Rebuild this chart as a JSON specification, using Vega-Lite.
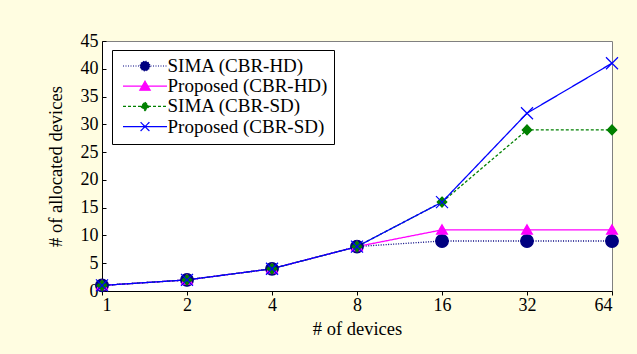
{
  "$schema": "https://vega.github.io/schema/vega-lite/v6.json",
  "autosize": "none",
  "width": 510,
  "height": 250,
  "padding": {"left": 102, "top": 41, "right": 25, "bottom": 63},
  "background": "#fffde1",
  "config": {
    "font": "Liberation Serif",
    "view": {"fill": "white", "stroke": "#808080", "strokeWidth": 1},
    "axis": {
      "labelFont": "Liberation Serif", "labelFontSize": 18, "labelColor": "black",
      "titleFont": "Liberation Serif", "titleFontSize": 18.5, "titleFontWeight": "normal", "titleColor": "black",
      "domainColor": "black", "tickColor": "black", "grid": false
    },
    "legend": {
      "labelFont": "Liberation Serif", "labelFontSize": 19, "labelColor": "black", "labelLimit": 400
    }
  },
  "data": {"values": [
    {"series": "SIMA (CBR-HD)", "devices": 1, "allocated": 1},
    {"series": "SIMA (CBR-HD)", "devices": 2, "allocated": 2},
    {"series": "SIMA (CBR-HD)", "devices": 4, "allocated": 4},
    {"series": "SIMA (CBR-HD)", "devices": 8, "allocated": 8},
    {"series": "SIMA (CBR-HD)", "devices": 16, "allocated": 9},
    {"series": "SIMA (CBR-HD)", "devices": 32, "allocated": 9},
    {"series": "SIMA (CBR-HD)", "devices": 64, "allocated": 9},
    {"series": "Proposed (CBR-HD)", "devices": 1, "allocated": 1},
    {"series": "Proposed (CBR-HD)", "devices": 2, "allocated": 2},
    {"series": "Proposed (CBR-HD)", "devices": 4, "allocated": 4},
    {"series": "Proposed (CBR-HD)", "devices": 8, "allocated": 8},
    {"series": "Proposed (CBR-HD)", "devices": 16, "allocated": 11},
    {"series": "Proposed (CBR-HD)", "devices": 32, "allocated": 11},
    {"series": "Proposed (CBR-HD)", "devices": 64, "allocated": 11},
    {"series": "SIMA (CBR-SD)", "devices": 1, "allocated": 1},
    {"series": "SIMA (CBR-SD)", "devices": 2, "allocated": 2},
    {"series": "SIMA (CBR-SD)", "devices": 4, "allocated": 4},
    {"series": "SIMA (CBR-SD)", "devices": 8, "allocated": 8},
    {"series": "SIMA (CBR-SD)", "devices": 16, "allocated": 16},
    {"series": "SIMA (CBR-SD)", "devices": 32, "allocated": 29},
    {"series": "SIMA (CBR-SD)", "devices": 64, "allocated": 29},
    {"series": "Proposed (CBR-SD)", "devices": 1, "allocated": 1},
    {"series": "Proposed (CBR-SD)", "devices": 2, "allocated": 2},
    {"series": "Proposed (CBR-SD)", "devices": 4, "allocated": 4},
    {"series": "Proposed (CBR-SD)", "devices": 8, "allocated": 8},
    {"series": "Proposed (CBR-SD)", "devices": 16, "allocated": 16},
    {"series": "Proposed (CBR-SD)", "devices": 32, "allocated": 32},
    {"series": "Proposed (CBR-SD)", "devices": 64, "allocated": 41}
  ]},
  "encoding": {
    "x": {
      "field": "devices", "type": "quantitative",
      "scale": {"type": "log", "base": 2, "domain": [1, 64], "nice": false},
      "axis": {"title": "# of devices", "values": [1, 2, 4, 8, 16, 32, 64], "format": "d",
               "tickSize": 4, "labelPadding": 1, "titleY": 43, "titleBaseline": "alphabetic"}
    },
    "y": {
      "field": "allocated", "type": "quantitative",
      "scale": {"domain": [0, 45], "nice": false},
      "axis": {"title": "# of allocated devices", "values": [0, 5, 10, 15, 20, 25, 30, 35, 40, 45],
               "tickSize": -4, "labelPadding": 8, "titleX": -47, "titleY": 125, "titleBaseline": "middle", "titleAngle": 270}
    }
  },
  "layer": [
    {
      "mark": {"type": "line", "strokeWidth": 1.3},
      "encoding": {
        "color": {"field": "series", "type": "nominal", "legend": null,
          "scale": {"domain": ["SIMA (CBR-HD)", "Proposed (CBR-HD)", "SIMA (CBR-SD)", "Proposed (CBR-SD)"],
                    "range": ["#000080", "#ff00ff", "#008000", "#0000ff"]}},
        "strokeDash": {"field": "series", "type": "nominal", "legend": null,
          "scale": {"domain": ["SIMA (CBR-HD)", "Proposed (CBR-HD)", "SIMA (CBR-SD)", "Proposed (CBR-SD)"],
                    "range": [[1, 1.5], [1, 0], [3, 2], [1, 0]]}}
      }
    },
    {
      "mark": {"type": "point", "filled": true, "opacity": 1, "size": 144, "strokeWidth": 1.2},
      "encoding": {
        "fill": {"field": "series", "type": "nominal", "legend": null,
          "scale": {"domain": ["SIMA (CBR-HD)", "Proposed (CBR-HD)", "SIMA (CBR-SD)", "Proposed (CBR-SD)"],
                    "range": ["#000080", "#ff00ff", "#008000", "#0000ff"]}},
        "stroke": {"field": "series", "type": "nominal", "legend": null,
          "scale": {"domain": ["SIMA (CBR-HD)", "Proposed (CBR-HD)", "SIMA (CBR-SD)", "Proposed (CBR-SD)"],
                    "range": ["#000080", "#ff00ff", "#008000", "#0000ff"]}},
        "shape": {"field": "series", "type": "nominal", "legend": null,
          "scale": {"domain": ["SIMA (CBR-HD)", "Proposed (CBR-HD)", "SIMA (CBR-SD)", "Proposed (CBR-SD)"],
                    "range": ["M1.05,0A1.05,1.05 0 1 1 -1.05,0A1.05,1.05 0 1 1 1.05,0Z",
                              "M0,-0.85L0.9,0.7L-0.9,0.7Z",
                              "M0,-0.85L0.8,0L0,0.85L-0.8,0Z",
                              "M-1,-1L1,1M-1,1L1,-1"]}}
      }
    },
    {
      "transform": [{"filter": "false"}],
      "mark": {"type": "point", "filled": true, "opacity": 1, "strokeWidth": 1.2},
      "encoding": {
        "fill": {"field": "series", "type": "nominal",
          "scale": {"domain": ["SIMA (CBR-HD)", "Proposed (CBR-HD)", "SIMA (CBR-SD)", "Proposed (CBR-SD)"],
                    "range": ["#000080", "#ff00ff", "#008000", "#0000ff"]},
          "legend": {"title": null, "orient": "none", "legendX": 10, "legendY": 9, "padding": 6.5,
                     "strokeColor": "black", "fillColor": "white", "cornerRadius": 0,
                     "symbolSize": 64, "symbolOffset": 17, "labelOffset": 13, "rowPadding": 0.2,
                     "symbolStrokeWidth": 1.2}},
        "stroke": {"field": "series", "type": "nominal",
          "scale": {"domain": ["SIMA (CBR-HD)", "Proposed (CBR-HD)", "SIMA (CBR-SD)", "Proposed (CBR-SD)"],
                    "range": ["#000080", "#ff00ff", "#008000", "#0000ff"]}},
        "strokeDash": {"field": "series", "type": "nominal",
          "scale": {"domain": ["SIMA (CBR-HD)", "Proposed (CBR-HD)", "SIMA (CBR-SD)", "Proposed (CBR-SD)"],
                    "range": [[1, 1.5], [1, 0], [3, 2], [1, 0]]}},
        "shape": {"field": "series", "type": "nominal",
          "scale": {"domain": ["SIMA (CBR-HD)", "Proposed (CBR-HD)", "SIMA (CBR-SD)", "Proposed (CBR-SD)"],
                    "range": ["M-5.5,0L5.5,0M1.2,0A1.2,1.2 0 1 1 -1.2,0A1.2,1.2 0 1 1 1.2,0Z",
                              "M-5.5,0L5.5,0M0,-1.25L1.3,1L-1.3,1Z",
                              "M-5.5,0L5.5,0M0,-1.05L1.05,0L0,1.05L-1.05,0Z",
                              "M-5.5,0L5.5,0M-1.1,-1.1L1.1,1.1M-1.1,1.1L1.1,-1.1"]}}
      }
    }
  ],
  "resolve": {"scale": {"color": "independent", "fill": "independent", "stroke": "independent", "strokeDash": "independent", "shape": "independent"}}
}
